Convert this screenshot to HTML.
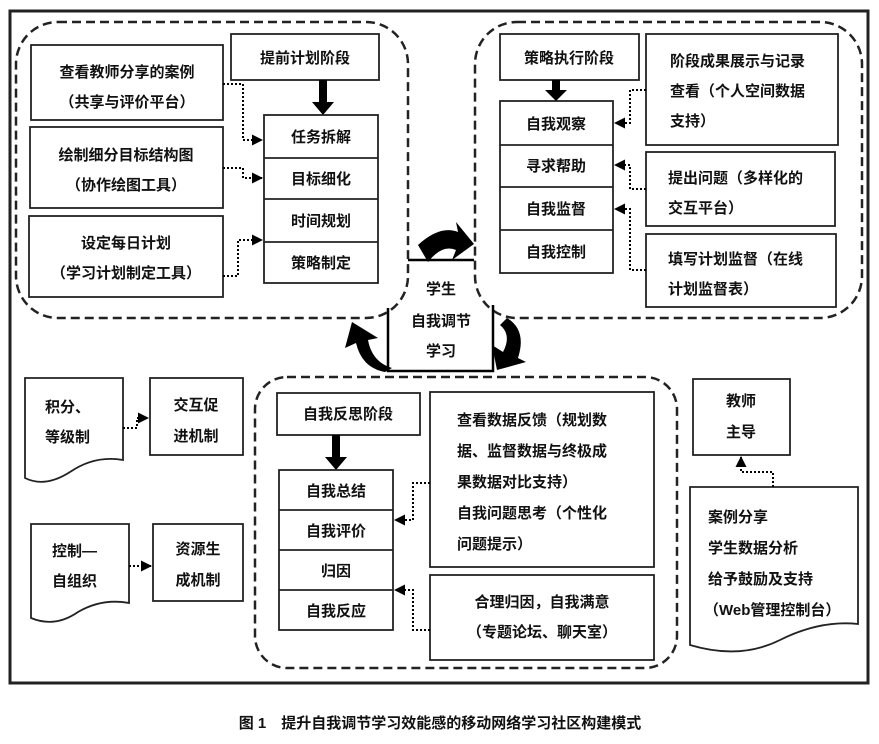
<!DOCTYPE html>
<html><head><meta charset="utf-8"><style>
body{margin:0;background:#fff;}
svg text{font-family:"Liberation Sans","Noto Sans CJK SC",sans-serif;font-size:15px;font-weight:bold;fill:#111;}
</style></head><body>
<svg width="879" height="739" viewBox="0 0 879 739" xmlns="http://www.w3.org/2000/svg">
<defs>
<marker id="a" markerWidth="11" markerHeight="11" refX="10" refY="5.5" orient="auto" markerUnits="userSpaceOnUse"><path d="M0,0 L11,5.5 L0,11 z" fill="#000"/></marker>
</defs>
<g fill="none" stroke="#222">
<rect x="10" y="11" width="858" height="672" stroke-width="3"/>
<rect x="16" y="22" width="392" height="296" rx="42" stroke-width="2.5" stroke-dasharray="9,5"/>
<rect x="475" y="22" width="387" height="296" rx="42" stroke-width="2.5" stroke-dasharray="9,5"/>
<rect x="255" y="377" width="422" height="291" rx="32" stroke-width="2.5" stroke-dasharray="9,5"/>
<g stroke-width="1.8">
<rect x="31" y="45" width="192" height="75"/>
<rect x="30" y="127" width="193" height="81"/>
<rect x="29" y="216" width="194" height="81"/>
<rect x="231" y="34" width="148" height="46"/>
<rect x="264" y="115" width="114" height="168"/>
<line x1="264" y1="158" x2="378" y2="158"/><line x1="264" y1="199" x2="378" y2="199"/><line x1="264" y1="242" x2="378" y2="242"/>
<rect x="500" y="34" width="139" height="46"/>
<rect x="500" y="101" width="113" height="172"/>
<line x1="500" y1="145" x2="613" y2="145"/><line x1="500" y1="187" x2="613" y2="187"/><line x1="500" y1="230" x2="613" y2="230"/>
<rect x="646" y="34" width="192" height="111"/>
<rect x="646" y="152" width="189" height="74"/>
<rect x="646" y="234" width="190" height="73"/>
<rect x="277" y="393" width="143" height="42"/>
<rect x="279" y="470" width="114" height="160"/>
<line x1="279" y1="510" x2="393" y2="510"/><line x1="279" y1="550" x2="393" y2="550"/><line x1="279" y1="590" x2="393" y2="590"/>
<rect x="430" y="392" width="224" height="175"/>
<rect x="430" y="575" width="224" height="85"/>
<rect x="150" y="378" width="93" height="77"/>
<rect x="153" y="524" width="90" height="77"/>
<rect x="693" y="379" width="97" height="76"/>
<path d="M25,378 H123 V460 Q95,455 70,472 Q45,488 25,478 Z"/>
<path d="M31,524 H129 V603 Q102,598 78,612 Q55,628 31,618 Z"/>
<path d="M690,487 H858 V624 Q820,620 780,640 Q740,660 690,645 Z"/>
</g>
<g stroke-width="2.5" stroke="#000">
<line x1="408" y1="260" x2="474" y2="260"/>
<polyline points="388,308 388,371 493,371 493,305"/>
</g>
<g stroke-width="2" stroke-dasharray="2,2" stroke="#000">
<polyline points="223,84 243,84 243,140 262,140" marker-end="url(#a)"/>
<polyline points="223,168 243,168 243,178 262,178" marker-end="url(#a)"/>
<polyline points="223,276 238,276 238,240 262,240" marker-end="url(#a)"/>
<polyline points="646,90 630,90 630,123 615,123" marker-end="url(#a)"/>
<polyline points="646,189 630,189 630,165 615,165" marker-end="url(#a)"/>
<polyline points="646,270 630,270 630,209 615,209" marker-end="url(#a)"/>
<polyline points="430,483 413,483 413,520 395,520" marker-end="url(#a)"/>
<polyline points="430,630 413,630 413,590 395,590" marker-end="url(#a)"/>
<polyline points="123,428 137,428 137,418 148,418" marker-end="url(#a)"/>
<polyline points="129,566 140,566 140,566 151,566" marker-end="url(#a)"/>
<polyline points="773,487 773,472 741,472 741,457" marker-end="url(#a)"/>
</g>
</g>
<g fill="#000">
<path d="M319,80 h8 v22 h7 l-11,13 l-11,-13 h7 z"/>
<path d="M552,80 h8 v10 h7 l-11,11 l-11,-11 h7 z"/>
<path d="M332,435 h8 v22 h7 l-11,13 l-11,-13 h7 z"/>
<path d="M418,245 Q440,225 458,232 L456,222 L474,244 L452,260 L456,250 Q442,244 428,262 Z"/>
<path d="M392,368 Q372,362 368,340 L378,338 L352,322 L345,348 L356,343 Q362,368 385,372 Z"/>
<path d="M507,318 Q527,330 518,358 L526,362 L497,370 L492,345 L503,352 Q512,335 500,325 Z"/>
</g>
<g text-anchor="middle">
<text x="127" y="77">查看教师分享的案例</text>
<text x="127" y="107">（共享与评价平台）</text>
<text x="126" y="160">绘制细分目标结构图</text>
<text x="126" y="190">（协作绘图工具）</text>
<text x="126" y="248">设定每日计划</text>
<text x="126" y="278">（学习计划制定工具）</text>
<text x="305" y="63">提前计划阶段</text>
<text x="321" y="142">任务拆解</text>
<text x="321" y="184">目标细化</text>
<text x="321" y="226">时间规划</text>
<text x="321" y="268">策略制定</text>
<text x="569" y="63">策略执行阶段</text>
<text x="556" y="129">自我观察</text>
<text x="556" y="171">寻求帮助</text>
<text x="556" y="214">自我监督</text>
<text x="556" y="257">自我控制</text>
<text x="441" y="294">学生</text>
<text x="441" y="326">自我调节</text>
<text x="441" y="356">学习</text>
<text x="348" y="419">自我反思阶段</text>
<text x="336" y="496">自我总结</text>
<text x="336" y="536">自我评价</text>
<text x="336" y="576">归因</text>
<text x="336" y="616">自我反应</text>
<text x="542" y="607">合理归因，自我满意</text>
<text x="542" y="637">（专题论坛、聊天室）</text>
<text x="196" y="410">交互促</text>
<text x="196" y="441">进机制</text>
<text x="198" y="554">资源生</text>
<text x="198" y="585">成机制</text>
<text x="741" y="406">教师</text>
<text x="741" y="437">主导</text>
<text x="440" y="728" style="font-size:15px">图 1　提升自我调节学习效能感的移动网络学习社区构建模式</text>
</g>
<g>
<text x="670" y="66">阶段成果展示与记录</text>
<text x="670" y="96">查看（个人空间数据</text>
<text x="670" y="126">支持）</text>
<text x="668" y="183">提出问题（多样化的</text>
<text x="668" y="213">交互平台）</text>
<text x="668" y="264">填写计划监督（在线</text>
<text x="668" y="294">计划监督表）</text>
<text x="457" y="425">查看数据反馈（规划数</text>
<text x="457" y="456">据、监督数据与终极成</text>
<text x="457" y="487">果数据对比支持）</text>
<text x="457" y="518">自我问题思考（个性化</text>
<text x="457" y="549">问题提示）</text>
<text x="45" y="412">积分、</text>
<text x="45" y="442">等级制</text>
<text x="52" y="556">控制—</text>
<text x="52" y="586">自组织</text>
<text x="708" y="522">案例分享</text>
<text x="708" y="553">学生数据分析</text>
<text x="708" y="584">给予鼓励及支持</text>
<text x="704" y="615">（Web管理控制台）</text>
</g>
</svg>
</body></html>
